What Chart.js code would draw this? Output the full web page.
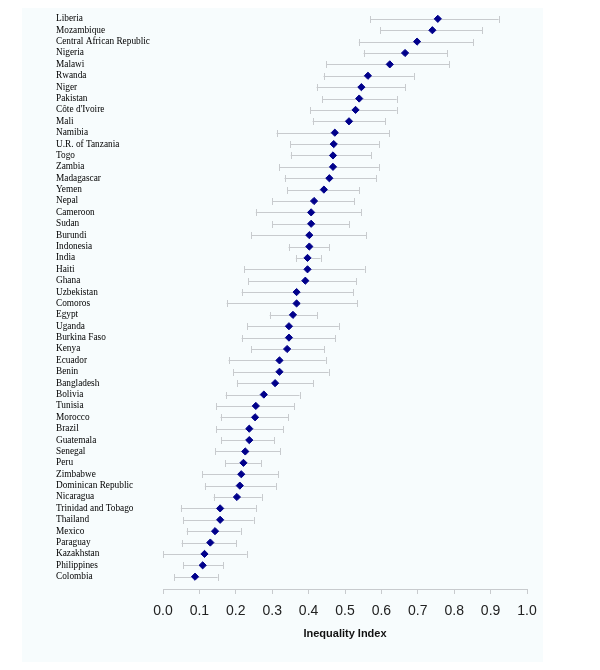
<!DOCTYPE html>
<html>
<head>
<meta charset="utf-8">
<script src="https://cdn.jsdelivr.net/npm/chart.js@4.4.1/dist/chart.umd.min.js"></script>
<style>
html,body{margin:0;padding:0;background:#ffffff;}
#wrap{position:relative;width:600px;height:670px;}
#panel{position:absolute;left:22px;top:8px;width:521px;height:654px;background:#f7fcfd;}
canvas{position:absolute;left:0;top:0;}
</style>
</head>
<body>
<div id="wrap"><div id="panel"></div><canvas id="c" width="600" height="670"></canvas></div>
<script>
const countries = ["Liberia","Mozambique","Central African Republic","Nigeria","Malawi","Rwanda","Niger","Pakistan","Côte d'Ivoire","Mali","Namibia","U.R. of Tanzania","Togo","Zambia","Madagascar","Yemen","Nepal","Cameroon","Sudan","Burundi","Indonesia","India","Haiti","Ghana","Uzbekistan","Comoros","Egypt","Uganda","Burkina Faso","Kenya","Ecuador","Benin","Bangladesh","Bolivia","Tunisia","Morocco","Brazil","Guatemala","Senegal","Peru","Zimbabwe","Dominican Republic","Nicaragua","Trinidad and Tobago","Thailand","Mexico","Paraguay","Kazakhstan","Philippines","Colombia"];
const indexValues = [0.755,0.740,0.698,0.665,0.623,0.563,0.545,0.539,0.529,0.511,0.472,0.469,0.467,0.467,0.457,0.442,0.415,0.407,0.407,0.402,0.402,0.397,0.397,0.391,0.367,0.367,0.357,0.346,0.346,0.341,0.320,0.320,0.308,0.277,0.255,0.253,0.237,0.237,0.226,0.221,0.215,0.211,0.203,0.157,0.157,0.143,0.130,0.114,0.109,0.088];
const lowerBounds = [0.569,0.597,0.538,0.551,0.449,0.441,0.422,0.438,0.405,0.411,0.312,0.349,0.351,0.320,0.334,0.342,0.300,0.255,0.300,0.243,0.345,0.365,0.223,0.234,0.216,0.175,0.293,0.232,0.216,0.243,0.180,0.193,0.203,0.172,0.146,0.158,0.146,0.160,0.144,0.171,0.108,0.115,0.139,0.049,0.056,0.065,0.051,0.000,0.056,0.031];
const upperBounds = [0.922,0.877,0.853,0.781,0.787,0.689,0.666,0.642,0.642,0.611,0.622,0.593,0.572,0.593,0.585,0.539,0.526,0.545,0.512,0.559,0.456,0.433,0.554,0.531,0.522,0.534,0.423,0.483,0.473,0.443,0.447,0.455,0.413,0.375,0.361,0.344,0.331,0.306,0.322,0.269,0.316,0.310,0.271,0.255,0.249,0.213,0.201,0.230,0.165,0.150];
const xTicks = [0.0,0.1,0.2,0.3,0.4,0.5,0.6,0.7,0.8,0.9,1.0];

const errorBars = {
  id: 'errorBars',
  beforeDatasetsDraw(chart) {
    const ctx = chart.ctx, xs = chart.scales.x, ys = chart.scales.y;
    ctx.save();
    ctx.strokeStyle = '#c8cbce';
    ctx.lineWidth = 1;
    countries.forEach((c, i) => {
      const y = Math.round(ys.getPixelForValue(i)) + 0.5;
      const x1 = xs.getPixelForValue(lowerBounds[i]);
      const x2 = xs.getPixelForValue(upperBounds[i]);
      ctx.beginPath();
      ctx.moveTo(x1, y); ctx.lineTo(x2, y);
      ctx.moveTo(Math.round(x1)+0.5, y-3.5); ctx.lineTo(Math.round(x1)+0.5, y+3.5);
      ctx.moveTo(Math.round(x2)+0.5, y-3.5); ctx.lineTo(Math.round(x2)+0.5, y+3.5);
      ctx.stroke();
    });
    ctx.restore();
  }
};

new Chart(document.getElementById('c'), {
  type: 'scatter',
  data: {
    datasets: [{
      data: countries.map((c, i) => ({x: indexValues[i], y: i})),
      pointStyle: 'rectRot',
      pointRadius: 3.6,
      pointBorderWidth: 1,
      backgroundColor: '#00008b',
      borderColor: '#00008b'
    }]
  },
  options: {
    responsive: false,
    animation: false,
    layout: {padding: {left: 56, right: 73, top: 12, bottom: 29}},
    plugins: {legend: {display: false}, tooltip: {enabled: false}},
    scales: {
      x: {
        type: 'linear',
        min: 0, max: 1,
        afterBuildTicks(scale) { scale.ticks = xTicks.map(v => ({value: v})); },
        border: {display: true, color: '#c8cbce', width: 1},
        grid: {drawOnChartArea: false, drawTicks: true, tickLength: 5, color: '#c8cbce'},
        ticks: {
          padding: 9,
          color: '#222222',
          font: {family: 'Liberation Sans, Arial, sans-serif', size: 14},
          callback: v => Number(v).toFixed(1)
        },
        title: {
          display: true,
          text: 'Inequality Index',
          color: '#111111',
          font: {family: 'Liberation Sans, Arial, sans-serif', size: 11, weight: 'bold'},
          padding: {top: -1, bottom: 0}
        }
      },
      y: {
        type: 'linear',
        reverse: true,
        min: -0.6,
        max: 50.08,
        afterBuildTicks(scale) { scale.ticks = countries.map((c, i) => ({value: i})); },
        afterFit(scale) { scale.width = 107; },
        border: {display: false},
        grid: {display: false},
        ticks: {
          autoSkip: false,
          crossAlign: 'far',
          padding: 0,
          color: '#000000',
          font: {family: 'Liberation Serif, Times New Roman, serif', size: 9.3},
          callback: v => countries[v] !== undefined ? countries[v] : ''
        }
      }
    }
  },
  plugins: [errorBars]
});
</script>
</body>
</html>
